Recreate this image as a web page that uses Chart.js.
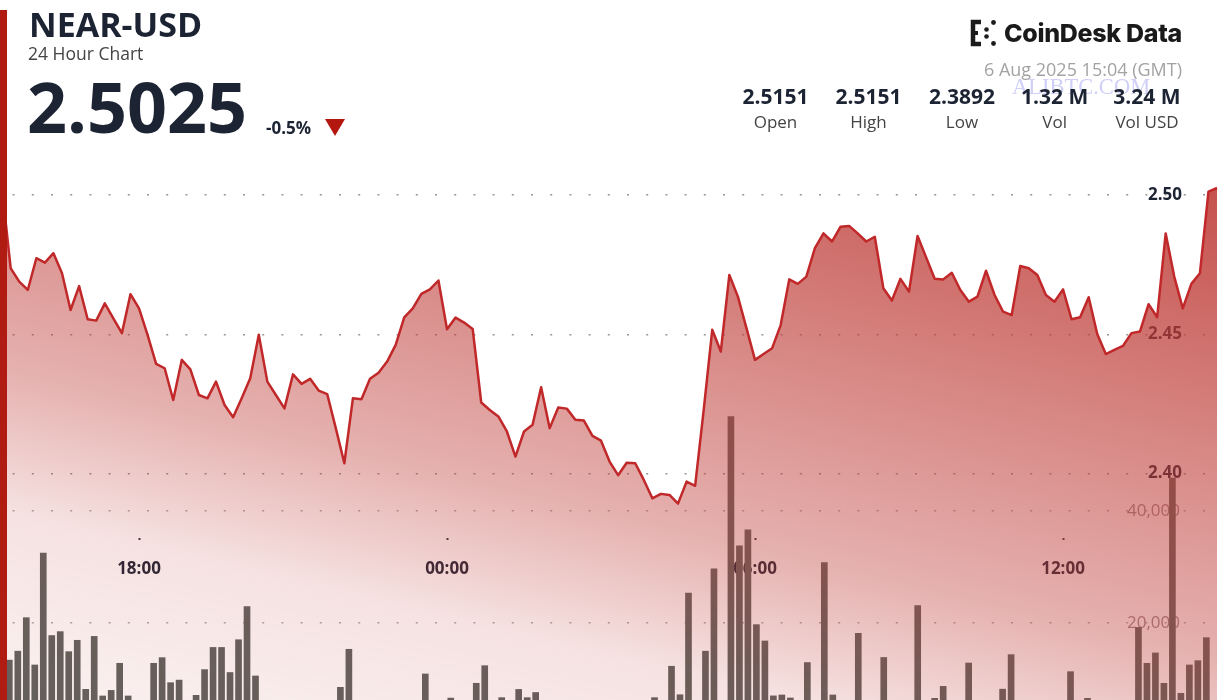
<!DOCTYPE html>
<html><head><meta charset="utf-8">
<script src="https://cdn.jsdelivr.net/npm/chart.js@4.4.1/dist/chart.umd.min.js"></script>
<style>
html,body{margin:0;padding:0;background:#fff;overflow:hidden;width:1220px;height:700px;}
#wrap{position:absolute;left:0;top:0;width:1220px;height:740px;}
.t{position:absolute;white-space:nowrap;line-height:1;font-family:'Open Sans',sans-serif;color:#1c2333;}
.col{position:absolute;width:110px;text-align:center;white-space:nowrap;line-height:1;font-family:'Open Sans',sans-serif;}
</style></head><body>
<div id="wrap"><canvas id="c"></canvas></div>
<div id="redbar" style="position:absolute;left:0;top:10px;width:7px;height:700px;background:#b01b12;"></div>
<div class="t" style="left:29px;top:7px;font-size:34px;font-weight:700;">NEAR-USD</div>
<div class="t" style="left:28px;top:45px;font-size:17.5px;color:#444;">24 Hour Chart</div>
<div class="t" style="left:27px;top:71px;font-size:70px;font-weight:700;">2.5025</div>
<div class="t" style="left:266px;top:119px;font-size:17px;font-weight:700;">-0.5%</div>
<div style="position:absolute;left:325px;top:119px;width:0;height:0;border-left:10.5px solid transparent;border-right:10.5px solid transparent;border-top:17px solid #b3170f;"></div>
<svg style="position:absolute;left:969px;top:19px" width="28" height="28" viewBox="0 0 28 28">
 <path d="M12 3 H4 V25 H12" fill="none" stroke="#1c1c1c" stroke-width="4.5"/>
 <path d="M4 14 H9" stroke="#1c1c1c" stroke-width="4"/>
 <circle cx="17.5" cy="10.5" r="2.3" fill="#1c1c1c"/><circle cx="17.5" cy="17.5" r="2.3" fill="#1c1c1c"/>
 <circle cx="24.5" cy="3.5" r="2.4" fill="#1c1c1c"/><circle cx="24.5" cy="24.5" r="2.4" fill="#1c1c1c"/>
</svg>
<div class="t" style="right:38px;top:21px;font-family:Inter,sans-serif;font-size:25px;font-weight:800;color:#1a1a1a;letter-spacing:-0.3px;">CoinDesk Data</div>
<div class="t" style="right:38px;top:60px;font-size:18px;color:#a3a3a3;">6 Aug 2025 15:04 (GMT)</div>
<div class="t" style="left:1012px;top:76px;font-family:'Liberation Serif',serif;font-size:22.5px;color:rgba(195,195,245,0.8);">ALIBTC.COM</div>
<div id="stats"></div>
<script>
// ---- data ----
// 10-minute closes, from 15:00 (previous day) to 15:00
const priceValues = [
 2.5151,2.5100,2.5020,2.4737,2.4689,2.4659,2.4773,2.4757,2.4791,2.4719,
 2.4587,2.4673,2.4554,2.4549,2.4611,2.4557,2.4504,2.4644,2.4593,2.4498,
 2.4394,2.4378,2.4264,2.4408,2.4374,2.4282,2.4270,2.4330,2.4246,2.4202,
 2.4270,2.4342,2.4498,2.4330,2.4282,2.4234,2.4356,2.4322,2.4340,2.4298,
 2.4285,2.4163,2.4037,2.4270,2.4267,2.4340,2.4362,2.4402,2.4462,2.4561,
 2.4593,2.4645,2.4661,2.4693,2.4518,2.4560,2.4542,2.4519,2.4255,2.4228,
 2.4205,2.4151,2.4061,2.4151,2.4175,2.4310,2.4163,2.4237,2.4233,2.4193,
 2.4190,2.4135,2.4118,2.4043,2.3994,2.4039,2.4037,2.3977,2.3911,2.3927,
 2.3923,2.3892,2.3971,2.3956,2.4228,2.4516,2.4438,2.4713,2.4635,2.4522,
 2.4408,2.4429,2.4450,2.4533,2.4697,2.4681,2.4707,2.4809,2.4862,2.4833,
 2.4886,2.4889,2.4862,2.4833,2.4850,2.4665,2.4621,2.4699,2.4653,2.4853,
 2.4776,2.4699,2.4697,2.4721,2.4659,2.4617,2.4635,2.4728,2.4641,2.4581,
 2.4569,2.4745,2.4737,2.4713,2.4641,2.4617,2.4661,2.4554,2.4561,2.4633,
 2.4501,2.4429,2.4444,2.4458,2.4504,2.4510,2.4608,2.4561,2.4862,2.4707,
 2.4593,2.4681,2.4719,2.5012,2.5025
];
const firstHour = -9;      // 15:00 of the previous day, hours from 00:00
const stepHours = 1 / 6;   // 10 minutes

// volume bars (NEAR)
const volumeValues = [
 13300,14900,20900,12430,32450,17700,18400,14810,16850,8070,
 17550,6880,7880,12730,6880,3200,2600,12730,13740,9260,
 9720,4100,7000,11600,15570,15570,11080,16950,22870,10460,
 4800,3500,2900,4200,3100,2500,3800,4400,5200,8430,
 15240,3600,2800,4500,3300,2400,3900,4700,3000,10820,
 4300,3600,6500,2700,4100,9150,12300,5100,6580,4600,
 8050,6580,7500,3900,2600,4800,3300,2200,3700,5000,
 2900,3400,4500,3100,5400,4000,6580,4900,12200,7100,
 25300,5300,14900,29650,5600,56900,33770,36610,19650,16730,
 6900,7060,6520,5200,12870,4700,30750,7060,4400,3800,
 18100,5000,3600,13770,4200,3100,5100,23050,4600,6460,
 8600,3900,4400,12780,3500,4800,2900,8100,14280,4100,
 3300,5200,2800,3700,4500,11230,3400,6460,4300,3000,
 5300,3600,4900,19150,12730,14580,9150,45870,7360,12430,
 13200,17320,5500
];

const timeTickValues = [-6, 0, 6, 12];
const timeTickLabels = ['18:00', '00:00', '06:00', '12:00'];
const priceTickValues = [2.40, 2.45, 2.50];
const priceTickLabels = ['2.40', '2.45', '2.50'];
const volumeTickValues = [20000, 40000];
const volumeTickLabels = ['20,000', '40,000'];

const statValues = ['2.5151', '2.5151', '2.3892', '1.32 M', '3.24 M'];
const statLabels = ['Open', 'High', 'Low', 'Vol', 'Vol USD'];

// ---- header stats ----
const statCenters = [775.5, 868.5, 962, 1054.7, 1147];
const st = document.getElementById('stats');
statValues.forEach((v, i) => {
  const a = document.createElement('div');
  a.className = 'col';
  a.style.cssText = `left:${statCenters[i]-55}px;top:86px;font-size:21px;font-weight:700;color:#1c2333;`;
  a.textContent = v;
  st.appendChild(a);
  const b = document.createElement('div');
  b.className = 'col';
  b.style.cssText = `left:${statCenters[i]-55}px;top:113px;font-size:17px;color:#444;`;
  b.textContent = statLabels[i];
  st.appendChild(b);
});

// ---- chart ----
Chart.defaults.font.family = "'Open Sans', sans-serif";
const pricePoints = priceValues.map((v, k) => ({x: firstHour + k * stepHours, y: v}));
const volumePoints = volumeValues.map((v, i) => ({x: i, y: v}));

function fillGradient(context) {
  const {ctx, chartArea} = context.chart;
  if (!chartArea) return 'rgba(190,60,55,0.3)';
  const g = ctx.createLinearGradient(681, -42, 467, 859);
  g.addColorStop(0, 'rgba(190,60,55,1)');
  g.addColorStop(0.6, 'rgba(190,60,55,0.4)');
  g.addColorStop(0.75, 'rgba(190,60,55,0.15)');
  g.addColorStop(1, 'rgba(190,60,55,0.05)');
  return g;
}
const zeroWidth = (s) => { s.width = 0; s.paddingTop = 0; s.paddingBottom = 0; s.paddingLeft = 0; s.paddingRight = 0; };
const fromList = (vals, labels) => (v) => { const i = vals.indexOf(v); return i < 0 ? '' : labels[i]; };

new Chart(document.getElementById('c'), {
  data: {
    datasets: [
      {type: 'line', order: 0, data: pricePoints, xAxisID: 'x', yAxisID: 'y',
       borderColor: '#c0282a', borderWidth: 2.5, pointRadius: 0, tension: 0,
       fill: 'start', backgroundColor: fillGradient, borderJoinStyle: 'round'},
      {type: 'bar', order: 1, data: volumePoints, xAxisID: 'xv', yAxisID: 'yv',
       backgroundColor: '#5e625e', barThickness: 6, borderWidth: 0}
    ]
  },
  options: {
    responsive: true, maintainAspectRatio: false, animation: false, devicePixelRatio: 1,
    layout: {padding: 0}, events: [],
    plugins: {legend: {display: false}, tooltip: {enabled: false}},
    scales: {
      x: {type: 'linear', min: -8.708, max: 15.058, position: {y: 2.3769}, z: 1,
          border: {display: false},
          grid: {drawOnChartArea: false, drawTicks: true, tickLength: 2, tickWidth: 2, tickColor: '#333'},
          afterBuildTicks: (a) => { a.ticks = timeTickValues.map(v => ({value: v})); },
          ticks: {padding: 19, autoSkip: false, maxRotation: 0, color: '#1c2333',
                  font: {size: 17, weight: 'bold'}, callback: fromList(timeTickValues, timeTickLabels)}},
      xv: {type: 'linear', display: false, position: {y: 2.3769}, offset: false, min: -0.743, max: 142.96},
      y: {type: 'linear', position: 'right', min: 2.30434, max: 2.57, z: 1, afterFit: zeroWidth,
          afterBuildTicks: (a) => { a.ticks = priceTickValues.map(v => ({value: v})); },
          border: {display: false, dash: [2, 17.2], dashOffset: 6.6},
          grid: {color: 'rgba(115,115,115,0.75)', lineWidth: 1.5, drawTicks: false},
          ticks: {mirror: true, padding: -38, color: '#1c2333', font: {size: 17, weight: 'bold'},
                  callback: fromList(priceTickValues, priceTickLabels)}},
      yv: {type: 'linear', position: 'right', min: -1003, max: 131490, afterFit: zeroWidth,
           afterBuildTicks: (a) => { a.ticks = volumeTickValues.map(v => ({value: v})); },
           border: {display: false, dash: [2, 17.2], dashOffset: 6.6},
           grid: {color: 'rgba(115,115,115,0.6)', lineWidth: 1.5, drawTicks: false},
           ticks: {mirror: true, padding: -40, color: 'rgba(145,130,130,0.9)', font: {size: 17},
                   callback: fromList(volumeTickValues, volumeTickLabels)}}
    }
  }
});
</script>
</body></html>
